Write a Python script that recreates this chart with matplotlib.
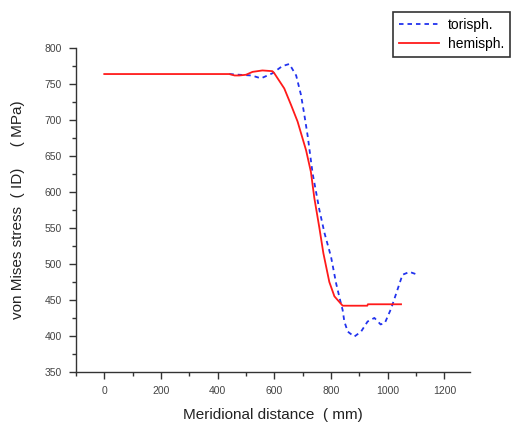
import matplotlib.pyplot as plt
from matplotlib.ticker import MultipleLocator

plt.rcParams['font.family'] = ['Liberation Sans', 'DejaVu Sans']

# hemispherical head
hemi_x = [0, 200, 400, 441, 460, 476, 500, 523, 558, 593, 600, 635, 659, 682,
          694, 712, 729, 741, 759, 773, 794, 812, 841, 880, 928, 930, 1000, 1047]
hemi_y = [764, 764, 764, 764, 762, 762, 763, 767, 769, 768, 765, 744, 721, 698,
          682, 658, 628, 592, 550, 515, 475, 455, 442, 442, 442, 444, 444, 444]

# torispherical head
tori_x = [441, 476, 520, 553, 593, 628, 653, 677, 694, 706, 718, 735, 759, 777,
          800, 818, 835, 841, 847, 859, 882, 906, 929, 953, 975, 990, 1012, 1030,
          1052, 1077, 1106]
tori_y = [764, 763, 762, 758, 765, 775, 778, 762, 735, 707, 677, 626, 575, 543,
          510, 473, 445, 436, 420, 406, 399, 406, 420, 425, 416, 418, 438, 459,
          485, 489, 485]

fig = plt.figure(figsize=(5.13, 4.26), dpi=100)
ax = fig.add_axes([0.148, 0.127, 0.768, 0.76])

l1, = ax.plot(tori_x, tori_y, color='#2233ee', lw=1.3, dashes=(2.5, 2.2))
l2, = ax.plot(hemi_x, hemi_y, color='#ff1a1a', lw=1.3)

ax.set_xlim(-100, 1290)
ax.set_ylim(350, 800)
ax.xaxis.set_major_locator(MultipleLocator(200))
ax.xaxis.set_minor_locator(MultipleLocator(100))
ax.yaxis.set_major_locator(MultipleLocator(50))
ax.yaxis.set_minor_locator(MultipleLocator(25))

for s in ['top', 'right']:
    ax.spines[s].set_visible(False)
for s in ['left', 'bottom']:
    ax.spines[s].set_color('#333333')
    ax.spines[s].set_linewidth(1.0)

ax.tick_params(which='major', direction='out', length=5, width=1, color='#333333',
               labelsize=7.5, labelcolor='#444444', pad=5)
ax.tick_params(which='minor', direction='out', length=3, width=1, color='#333333')

ax.set_xlabel('Meridional distance  ( mm)', fontsize=11, color='#222222', labelpad=9)
ax.set_ylabel('von Mises stress  ( ID)     ( MPa)', fontsize=11, color='#222222', labelpad=14)

leg = fig.legend([l1, l2], ['torisph.', 'hemisph.'], loc='upper left',
                 bbox_to_anchor=(0.766, 0.972), borderaxespad=0, frameon=True,
                 fancybox=False, fontsize=10, handlelength=2.9, handletextpad=0.6,
                 borderpad=0.45, labelspacing=0.35, edgecolor='black')
leg.get_frame().set_linewidth(1.2)

fig.savefig('out.png', dpi=100)
